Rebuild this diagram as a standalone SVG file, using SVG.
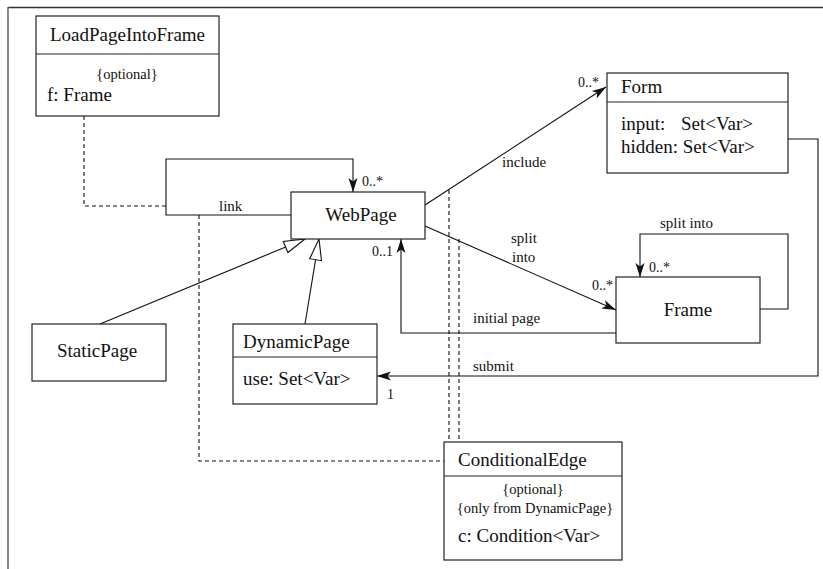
<svg xmlns="http://www.w3.org/2000/svg" width="823" height="569" viewBox="0 0 823 569">
  <style>
    text { font-family: "Liberation Serif", "Times New Roman", serif; fill: #111; }
    .title { font-size: 19px; }
    .attr { font-size: 19px; }
    .note { font-size: 14.5px; }
    .lbl { font-size: 15px; }
    .mult { font-size: 14px; }
    .box { fill: #fff; stroke: #222; stroke-width: 1.2; }
    .sep { stroke: #222; stroke-width: 1.2; }
    .edge { fill: none; stroke: #111; stroke-width: 1.1; }
    .dash { fill: none; stroke: #111; stroke-width: 1.1; stroke-dasharray: 4 3; }
    .gen { fill: #fff; stroke: #111; stroke-width: 1.1; }
  </style>
  <defs>
    <marker id="arrow" viewBox="-15 -6 16 12" refX="0" refY="0" markerWidth="16" markerHeight="12" markerUnits="userSpaceOnUse" orient="auto">
      <path d="M0,0 L-14,-4.5 L-10.5,0 L-14,4.5 Z" fill="#111"/>
    </marker>
  </defs>

  <rect width="823" height="569" fill="#fff"/>
  <!-- page frame: top and left rules -->
  <line x1="8" y1="7.5" x2="823" y2="7.5" stroke="#333" stroke-width="1.5"/>
  <line x1="8" y1="7" x2="8" y2="569" stroke="#666" stroke-width="1.5"/>

  <g id="connectors">
    <!-- dependency lines to association classes -->
    <polyline class="dash" points="84,116 84,206 166,206"/>
    <polyline class="dash" points="199,215 199,461 444,461"/>
    <line class="dash" x1="449" y1="190" x2="449" y2="442"/>
    <line class="dash" x1="459" y1="239" x2="459" y2="442"/>

    <!-- link (self association of WebPage) -->
    <polyline class="edge" points="291,215 166,215 166,159 353,159 353,192" marker-end="url(#arrow)"/>
    <!-- include -->
    <line class="edge" x1="425" y1="205" x2="606" y2="87" marker-end="url(#arrow)"/>
    <!-- split into (WebPage to Frame) -->
    <line class="edge" x1="425" y1="226" x2="616" y2="310" marker-end="url(#arrow)"/>
    <!-- initial page -->
    <polyline class="edge" points="616,333 401,333 401,239" marker-end="url(#arrow)"/>
    <!-- split into (Frame self association) -->
    <polyline class="edge" points="760,309 788,309 788,234 640,234 640,277" marker-end="url(#arrow)"/>
    <!-- submit -->
    <polyline class="edge" points="788,139 818,139 818,376 377,376" marker-end="url(#arrow)"/>

    <!-- generalizations -->
    <line class="edge" x1="100" y1="324" x2="285.6" y2="247"/>
    <polygon class="gen" points="305,239 283.3,241.5 287.9,252.5"/>
    <line class="edge" x1="305" y1="324" x2="315.6" y2="259.7"/>
    <polygon class="gen" points="319,239 309.7,258.7 321.5,260.7"/>

    <!-- labels and multiplicities -->
    <text class="lbl" x="219" y="211">link</text>
    <text class="mult" x="362" y="186">0..*</text>
    <text class="lbl" x="502" y="167">include</text>
    <text class="mult" x="578" y="87">0..*</text>
    <text class="lbl" x="511" y="243">split</text>
    <text class="lbl" x="512" y="262">into</text>
    <text class="mult" x="592" y="290">0..*</text>
    <text class="lbl" x="660" y="228">split into</text>
    <text class="mult" x="649" y="272">0..*</text>
    <text class="mult" x="372" y="256">0..1</text>
    <text class="lbl" x="473" y="323">initial page</text>
    <text class="lbl" x="473" y="371">submit</text>
    <text class="mult" x="387" y="399">1</text>
  </g>

  <g id="LoadPageIntoFrame">
    <rect class="box" x="36" y="16" width="183" height="100"/>
    <line class="sep" x1="36" y1="54" x2="219" y2="54"/>
    <text class="title" x="127.5" y="41" text-anchor="middle">LoadPageIntoFrame</text>
    <text class="note" x="127" y="79" text-anchor="middle">{optional}</text>
    <text class="attr" x="47" y="101">f: Frame</text>
  </g>

  <g id="WebPage">
    <rect class="box" x="291" y="192" width="134" height="47"/>
    <text class="title" x="361" y="221" text-anchor="middle">WebPage</text>
  </g>

  <g id="Form">
    <rect class="box" x="607" y="73" width="181" height="100"/>
    <line class="sep" x1="607" y1="102" x2="788" y2="102"/>
    <text class="title" x="621" y="93">Form</text>
    <text class="attr" x="621" y="130">input:</text>
    <text class="attr" x="681" y="130">Set&lt;Var&gt;</text>
    <text class="attr" x="621" y="153">hidden: Set&lt;Var&gt;</text>
  </g>

  <g id="Frame">
    <rect class="box" x="616" y="277" width="144" height="66"/>
    <text class="title" x="688" y="316" text-anchor="middle">Frame</text>
  </g>

  <g id="StaticPage">
    <rect class="box" x="32" y="324" width="134" height="57"/>
    <text class="title" x="97" y="357" text-anchor="middle">StaticPage</text>
  </g>

  <g id="DynamicPage">
    <rect class="box" x="233" y="324" width="144" height="80"/>
    <line class="sep" x1="233" y1="357" x2="377" y2="357"/>
    <text class="title" x="243" y="348">DynamicPage</text>
    <text class="attr" x="243" y="385">use: Set&lt;Var&gt;</text>
  </g>

  <g id="ConditionalEdge">
    <rect class="box" x="444" y="442" width="178" height="118"/>
    <line class="sep" x1="444" y1="476" x2="622" y2="476"/>
    <text class="title" x="458" y="466">ConditionalEdge</text>
    <text class="note" x="533" y="494" text-anchor="middle">{optional}</text>
    <text class="note" x="535" y="513" text-anchor="middle">{only from DynamicPage}</text>
    <text class="attr" x="458" y="542">c: Condition&lt;Var&gt;</text>
  </g>
</svg>
